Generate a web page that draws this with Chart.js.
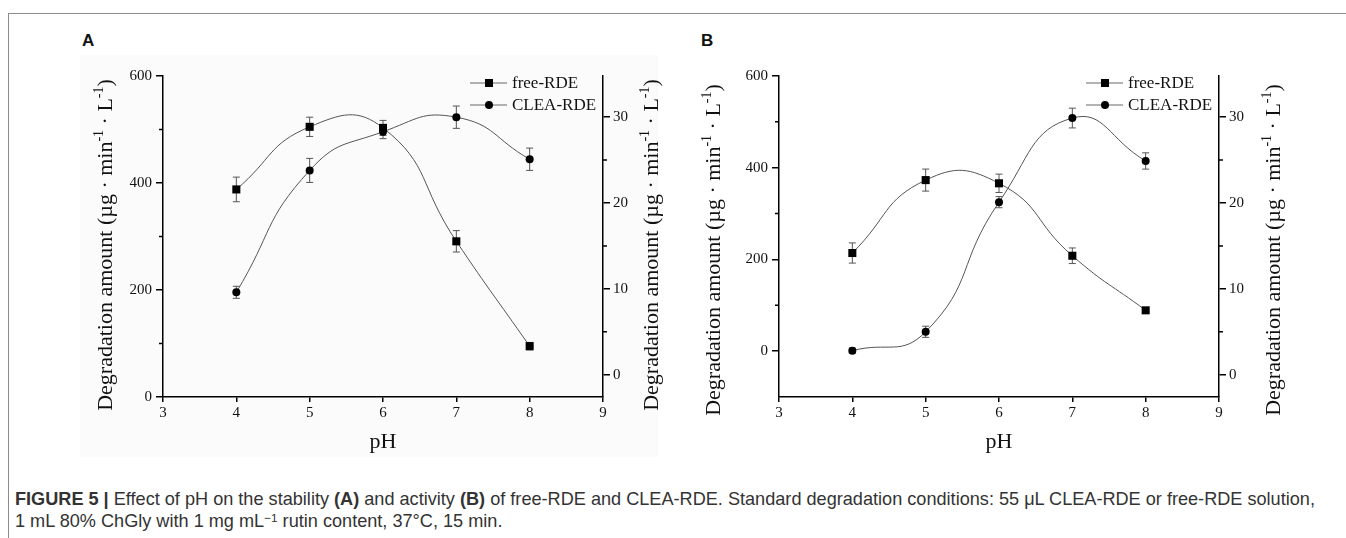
<!DOCTYPE html>
<html>
<head>
<meta charset="utf-8">
<script src="https://cdn.jsdelivr.net/npm/chart.js@4.4.0/dist/chart.umd.min.js"></script>
<style>
html, body { margin: 0; padding: 0; background: #fff; width: 1346px; height: 538px; overflow: hidden; }
body { position: relative; }
#frame { position: absolute; left: 8px; top: 13px; width: 1340px; height: 530px; border-left: 1.5px solid #8c8c8c; border-top: 1.5px solid #8c8c8c; }
#bgA { position: absolute; left: 80px; top: 55px; width: 578px; height: 402px; background: #fbfbfb; }
.panel { position: absolute; font: bold 17px "Liberation Sans", Arial, sans-serif; color: #111; }
canvas { position: absolute; }
#caption { position: absolute; left: 15px; top: 488px; font: 18px "Liberation Sans", Arial, sans-serif; color: #333; line-height: 22px; white-space: nowrap; }
#caption sup { font-size: 0.65em; vertical-align: 0.45em; line-height: 0; }
</style>
</head>
<body>
<div id="frame"></div>
<div id="bgA"></div>
<div class="panel" style="left:82px;top:31px">A</div>
<div class="panel" style="left:701px;top:31px">B</div>
<canvas id="chartA" width="640" height="440" style="left:40px;top:20px"></canvas>
<canvas id="chartB" width="660" height="440" style="left:680px;top:20px"></canvas>
<div id="caption"><span id="line1"><b>FIGURE 5 |</b> Effect of pH on the stability <b>(A)</b> and activity <b>(B)</b> of free-RDE and CLEA-RDE. Standard degradation conditions: 55 μL CLEA-RDE or free-RDE solution,</span><br>1 mL 80% ChGly with 1 mg mL<sup>−1</sup> rutin content, 37°C, 15 min.</div>
<script>
const pH = [4, 5, 6, 7, 8];

// panel A - stability
const freeA = [388, 505, 503, 291, 95];
const freeAErr = [23, 18, 14, 20, 7];
const cleaA = [9.6, 23.8, 28.3, 30.0, 25.1];
const cleaAErr = [0.7, 1.4, 0.8, 1.3, 1.3];

// panel B - activity
const freeB = [214, 373, 366, 208, 89];
const freeBErr = [22, 24, 20, 17, 3];
const cleaB = [2.8, 5.0, 20.1, 29.9, 24.9];
const cleaBErr = [0.3, 0.65, 0.65, 1.15, 0.95];

const xTicks = [3, 4, 5, 6, 7, 8, 9];
const leftTicks = [0, 200, 400, 600];
const leftMinor = [100, 300, 500];
const rightTicks = [0, 10, 20, 30];
const rightMinor = [5, 15, 25];
const seriesNames = ['free-RDE', 'CLEA-RDE'];

const serif = "'Liberation Serif','Times New Roman',serif";

// stretch the first caption line to the width it has in the figure
const line1 = document.getElementById('line1');
const capWidth = line1.getBoundingClientRect().width;
document.getElementById('caption').style.fontSize = (18 * 1301 / capWidth).toFixed(2) + 'px';

function drawYTitle(ctx, x, y, size) {
    // reads bottom to top, x is the baseline
    const parts = [['Degradation amount (µg · min', false], ['-1', true], [' · L', false], ['-1', true], [')', false]];
    const supSize = Math.round(size * 0.62);
    let total = 0;
    parts.forEach(p => {
        ctx.font = (p[1] ? supSize : size) + 'px ' + serif;
        total += ctx.measureText(p[0]).width;
    });
    ctx.save();
    ctx.translate(x, y);
    ctx.rotate(-Math.PI / 2);
    ctx.fillStyle = '#111';
    ctx.textBaseline = 'alphabetic';
    ctx.textAlign = 'left';
    let pos = -total / 2;
    parts.forEach(p => {
        ctx.font = (p[1] ? supSize : size) + 'px ' + serif;
        ctx.fillText(p[0], pos, p[1] ? -size * 0.42 : 0);
        pos += ctx.measureText(p[0]).width;
    });
    ctx.restore();
}

function drawMarker(ctx, style, x, y) {
    ctx.fillStyle = '#000';
    ctx.beginPath();
    if (style === 'rect') {
        ctx.rect(x - 4, y - 4, 8, 8);
    } else {
        ctx.arc(x, y, 4, 0, Math.PI * 2);
    }
    ctx.fill();
}

const extras = {
    id: 'extras',
    beforeDatasetsDraw(chart) {
        const ctx = chart.ctx;
        ctx.save();
        ctx.strokeStyle = '#555';
        ctx.lineWidth = 1;
        chart.data.datasets.forEach((ds, i) => {
            const meta = chart.getDatasetMeta(i);
            const ys = chart.scales[ds.yAxisID];
            ds.errors.forEach((e, j) => {
                const x = meta.data[j].x;
                const v = ds.data[j].y;
                const t = ys.getPixelForValue(v + e);
                const b = ys.getPixelForValue(v - e);
                ctx.beginPath();
                ctx.moveTo(x, t); ctx.lineTo(x, b);
                ctx.moveTo(x - 3.5, t); ctx.lineTo(x + 3.5, t);
                ctx.moveTo(x - 3.5, b); ctx.lineTo(x + 3.5, b);
                ctx.stroke();
            });
        });
        ctx.restore();
    },
    afterDraw(chart, args, opts) {
        const ctx = chart.ctx;
        const area = chart.chartArea;
        const y = chart.scales.y, y1 = chart.scales.y1;
        ctx.save();
        // minor ticks
        ctx.strokeStyle = '#000';
        ctx.lineWidth = 1.5;
        ctx.beginPath();
        leftMinor.forEach(v => {
            const p = y.getPixelForValue(v);
            ctx.moveTo(area.left - 4, p); ctx.lineTo(area.left, p);
        });
        rightMinor.forEach(v => {
            const p = y1.getPixelForValue(v);
            ctx.moveTo(area.right, p); ctx.lineTo(area.right + 4, p);
        });
        ctx.stroke();

        // axis titles
        drawYTitle(ctx, area.left - opts.leftTitle, opts.titleY, 22);
        drawYTitle(ctx, area.right + opts.rightTitle, opts.titleY, 22);
        ctx.font = '22px ' + serif;
        ctx.fillStyle = '#111';
        ctx.textAlign = 'center';
        ctx.textBaseline = 'middle';
        ctx.fillText('pH', (area.left + area.right) / 2, area.bottom + 45);

        // legend
        chart.data.datasets.forEach((ds, i) => {
            const ly = area.top + 7 + i * 22;
            ctx.strokeStyle = '#666';
            ctx.lineWidth = 1;
            ctx.beginPath();
            ctx.moveTo(area.right - 133, ly); ctx.lineTo(area.right - 96, ly);
            ctx.stroke();
            drawMarker(ctx, ds.pointStyle, area.right - 114, ly);
            ctx.fillStyle = '#111';
            ctx.font = '17px ' + serif;
            ctx.textAlign = 'left';
            ctx.textBaseline = 'middle';
            ctx.fillText(ds.label, area.right - 91, ly + 1);
        });
        ctx.restore();
    }
};

function axisStyle(len) {
    return {
        grid: { drawOnChartArea: false, drawTicks: true, tickLength: len, color: '#000', lineWidth: 1.5 },
        border: { display: true, color: '#000', width: 1.5 },
        ticks: { font: { family: serif, size: 15 }, color: '#111', autoSkip: false, maxRotation: 0 }
    };
}

function makeChart(id, free, freeErr, clea, cleaErr, leftMin, box) {
    const x = axisStyle(5);
    x.ticks.padding = 2;
    const yl = axisStyle(7);
    yl.ticks.padding = 4;
    const yr = axisStyle(7);
    yr.ticks.padding = 3;

    return new Chart(document.getElementById(id), {
        type: 'line',
        data: {
            datasets: [
                {
                    label: seriesNames[0],
                    data: pH.map((v, i) => ({ x: v, y: free[i] })),
                    errors: freeErr,
                    yAxisID: 'y',
                    borderColor: '#555',
                    borderWidth: 1,
                    pointStyle: 'rect',
                    pointRadius: 5.7,
                    pointBackgroundColor: '#000',
                    pointBorderWidth: 0,
                    tension: 0.5
                },
                {
                    label: seriesNames[1],
                    data: pH.map((v, i) => ({ x: v, y: clea[i] })),
                    errors: cleaErr,
                    yAxisID: 'y1',
                    borderColor: '#555',
                    borderWidth: 1,
                    pointStyle: 'circle',
                    pointRadius: 4,
                    pointBackgroundColor: '#000',
                    pointBorderWidth: 0,
                    tension: 0.5
                }
            ]
        },
        options: {
            responsive: false,
            animation: false,
            layout: { padding: { top: 56, left: 0, right: 0, bottom: 0 } },
            plugins: {
                legend: { display: false },
                tooltip: { enabled: false },
                extras: box
            },
            scales: {
                x: Object.assign(x, {
                    type: 'linear', min: 3, max: 9,
                    afterBuildTicks: s => { s.ticks = xTicks.map(v => ({ value: v })); },
                    afterFit: s => { s.height = 63; }
                }),
                y: Object.assign(yl, {
                    type: 'linear', position: 'left', min: leftMin, max: 600,
                    afterBuildTicks: s => { s.ticks = leftTicks.map(v => ({ value: v })); },
                    afterFit: s => { s.width = box.leftWidth; }
                }),
                y1: Object.assign(yr, {
                    type: 'linear', position: 'right', min: -2.6, max: 34.8,
                    afterBuildTicks: s => { s.ticks = rightTicks.map(v => ({ value: v })); },
                    afterFit: s => { s.width = box.rightWidth; }
                })
            }
        },
        plugins: [extras]
    });
}

makeChart('chartA', freeA, freeAErr, cleaA, cleaAErr, 0,
    { leftWidth: 123, rightWidth: 77, leftTitle: 51, rightTitle: 55, titleY: 225 });
makeChart('chartB', freeB, freeBErr, cleaB, cleaBErr, -100,
    { leftWidth: 99, rightWidth: 121, leftTitle: 59, rightTitle: 61, titleY: 230 });
</script>
</body>
</html>
